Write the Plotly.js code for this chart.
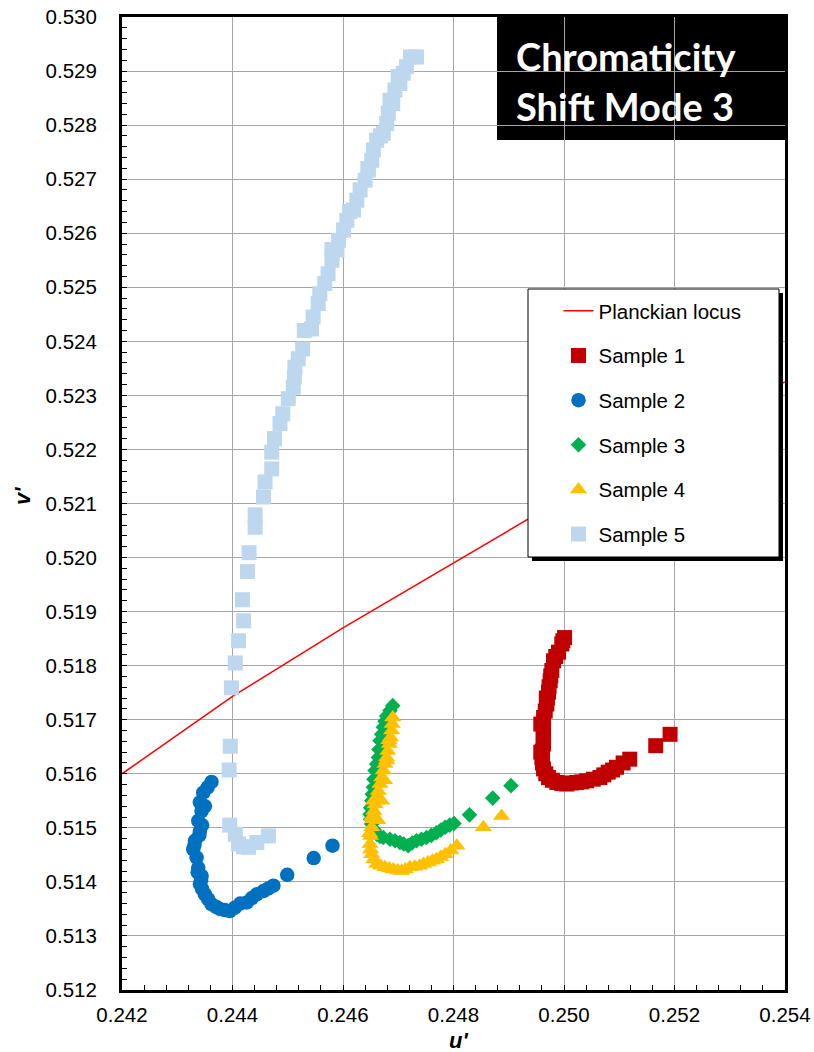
<!DOCTYPE html>
<html>
<head>
<meta charset="utf-8">
<script src="https://cdn.plot.ly/plotly-3.0.1.min.js"></script>
<style>html,body{margin:0;padding:0;background:#fff;}#chart{width:814px;height:1052px;}</style>
</head>
<body>
<div id="chart"></div>
<script>
// Planckian locus
const planckU = [0.242, 0.244, 0.246, 0.248, 0.250, 0.252, 0.254];
const planckV = [0.51600, 0.51743, 0.51870, 0.51990, 0.52110, 0.52220, 0.52325];

// Sample 1 (red squares)
const s1U = [0.25001, 0.24998, 0.24996, 0.24990, 0.24985, 0.24981, 0.24978, 0.24976, 0.24975, 0.24973, 0.24972, 0.24970, 0.24969, 0.24966, 0.24963, 0.24958, 0.24963, 0.24962, 0.24963, 0.24961, 0.24960, 0.24961, 0.24963, 0.24967, 0.24972, 0.24979, 0.24987, 0.24996, 0.25005, 0.25014, 0.25023, 0.25032, 0.25041, 0.25053, 0.25065, 0.25072, 0.25080, 0.25088, 0.25095, 0.25107, 0.25119, 0.25166, 0.25192, 0.24968, 0.24958];
const s1V = [0.51852, 0.51846, 0.51840, 0.51825, 0.51817, 0.51809, 0.51791, 0.51781, 0.51772, 0.51761, 0.51751, 0.51740, 0.51729, 0.51716, 0.51704, 0.51692, 0.51680, 0.51668, 0.51655, 0.51642, 0.51630, 0.51620, 0.51609, 0.51600, 0.51593, 0.51588, 0.51584, 0.51582, 0.51581, 0.51583, 0.51584, 0.51585, 0.51587, 0.51590, 0.51593, 0.51598, 0.51603, 0.51607, 0.51612, 0.51620, 0.51627, 0.51652, 0.51673, 0.51740, 0.51640];

// Sample 2 (blue circles)
const s2U = [0.24362, 0.24355, 0.24347, 0.24341, 0.24344, 0.24338, 0.24341, 0.24340, 0.24332, 0.24331, 0.24329, 0.24335, 0.24338, 0.24337, 0.24344, 0.24343, 0.24341, 0.24345, 0.24350, 0.24356, 0.24362, 0.24370, 0.24377, 0.24386, 0.24395, 0.24404, 0.24414, 0.24426, 0.24435, 0.24444, 0.24456, 0.24465, 0.24474, 0.24499, 0.24547, 0.24581, 0.24350, 0.24345];
const s2V = [0.51585, 0.51575, 0.51565, 0.51547, 0.51531, 0.51513, 0.51494, 0.51486, 0.51476, 0.51468, 0.51460, 0.51445, 0.51426, 0.51418, 0.51411, 0.51403, 0.51396, 0.51387, 0.51377, 0.51368, 0.51359, 0.51354, 0.51350, 0.51348, 0.51346, 0.51352, 0.51360, 0.51362, 0.51370, 0.51377, 0.51383, 0.51388, 0.51393, 0.51413, 0.51444, 0.51467, 0.51540, 0.51505];

// Sample 3 (green diamonds)
const s3U = [0.24690, 0.24685, 0.24679, 0.24676, 0.24673, 0.24670, 0.24667, 0.24665, 0.24664, 0.24661, 0.24658, 0.24656, 0.24655, 0.24653, 0.24652, 0.24650, 0.24649, 0.24650, 0.24652, 0.24656, 0.24661, 0.24667, 0.24673, 0.24685, 0.24694, 0.24703, 0.24710, 0.24718, 0.24725, 0.24733, 0.24742, 0.24751, 0.24760, 0.24769, 0.24777, 0.24785, 0.24793, 0.24801, 0.24829, 0.24871, 0.24904];
const s3V = [0.51726, 0.51717, 0.51707, 0.51697, 0.51686, 0.51673, 0.51661, 0.51645, 0.51630, 0.51618, 0.51606, 0.51590, 0.51575, 0.51562, 0.51550, 0.51537, 0.51525, 0.51516, 0.51507, 0.51497, 0.51488, 0.51484, 0.51482, 0.51479, 0.51476, 0.51473, 0.51470, 0.51467, 0.51472, 0.51476, 0.51479, 0.51482, 0.51486, 0.51491, 0.51496, 0.51501, 0.51505, 0.51508, 0.51524, 0.51555, 0.51578];

// Sample 4 (yellow triangles)
const s4U = [0.24690, 0.24689, 0.24688, 0.24686, 0.24684, 0.24681, 0.24679, 0.24676, 0.24673, 0.24670, 0.24667, 0.24664, 0.24661, 0.24658, 0.24656, 0.24654, 0.24652, 0.24650, 0.24649, 0.24650, 0.24652, 0.24656, 0.24661, 0.24668, 0.24676, 0.24684, 0.24691, 0.24699, 0.24706, 0.24713, 0.24721, 0.24730, 0.24739, 0.24746, 0.24754, 0.24762, 0.24769, 0.24777, 0.24785, 0.24795, 0.24806, 0.24854, 0.24887, 0.24683, 0.24679, 0.24675, 0.24670, 0.24663, 0.24652, 0.24655, 0.24648];
const s4V = [0.51704, 0.51692, 0.51680, 0.51667, 0.51655, 0.51642, 0.51630, 0.51618, 0.51606, 0.51593, 0.51581, 0.51568, 0.51556, 0.51543, 0.51531, 0.51516, 0.51501, 0.51485, 0.51470, 0.51460, 0.51451, 0.51442, 0.51433, 0.51430, 0.51427, 0.51425, 0.51423, 0.51421, 0.51420, 0.51423, 0.51427, 0.51428, 0.51430, 0.51433, 0.51436, 0.51439, 0.51442, 0.51446, 0.51451, 0.51458, 0.51467, 0.51501, 0.51522, 0.51662, 0.51625, 0.51588, 0.51550, 0.51514, 0.51520, 0.51550, 0.51490];

// Sample 5 (light blue squares)
const s5U = [0.24733, 0.24722, 0.24715, 0.24709, 0.24703, 0.24694, 0.24685, 0.24682, 0.24679, 0.24673, 0.24661, 0.24655, 0.24652, 0.24646, 0.24640, 0.24631, 0.24625, 0.24619, 0.24607, 0.24601, 0.24592, 0.24589, 0.24580, 0.24573, 0.24567, 0.24558, 0.24555, 0.24546, 0.24543, 0.24527, 0.24519, 0.24513, 0.24512, 0.24510, 0.24501, 0.24491, 0.24486, 0.24476, 0.24471, 0.24471, 0.24459, 0.24456, 0.24441, 0.24441, 0.24430, 0.24427, 0.24418, 0.24420, 0.24411, 0.24405, 0.24398, 0.24396, 0.24394, 0.24395, 0.24405, 0.24411, 0.24420, 0.24429, 0.24444, 0.24465, 0.24700, 0.24690, 0.24668, 0.24645, 0.24612, 0.24580, 0.24530];
const s5V = [0.52926, 0.52926, 0.52908, 0.52896, 0.52877, 0.52865, 0.52846, 0.52822, 0.52803, 0.52785, 0.52772, 0.52754, 0.52735, 0.52717, 0.52698, 0.52680, 0.52661, 0.52643, 0.52624, 0.52606, 0.52587, 0.52569, 0.52550, 0.52525, 0.52507, 0.52488, 0.52470, 0.52445, 0.52423, 0.52386, 0.52368, 0.52352, 0.52334, 0.52315, 0.52294, 0.52266, 0.52248, 0.52220, 0.52195, 0.52164, 0.52140, 0.52112, 0.52079, 0.52056, 0.52009, 0.51974, 0.51922, 0.51883, 0.51846, 0.51805, 0.51759, 0.51651, 0.51607, 0.51505, 0.51488, 0.51470, 0.51465, 0.51464, 0.51473, 0.51485, 0.52890, 0.52840, 0.52780, 0.52720, 0.52640, 0.52570, 0.52420];

const xTicks = [0.242, 0.244, 0.246, 0.248, 0.250, 0.252, 0.254];
const yTicks = [0.512, 0.513, 0.514, 0.515, 0.516, 0.517, 0.518, 0.519, 0.520, 0.521, 0.522, 0.523, 0.524, 0.525, 0.526, 0.527, 0.528, 0.529, 0.530];

const seriesNames = ['Planckian locus', 'Sample 1', 'Sample 2', 'Sample 3', 'Sample 4', 'Sample 5'];
const titleLines = ['Chromaticity', 'Shift Mode 3'];
const axisTitles = ["u'", "v'"];

const FONT = 'Liberation Sans, Arial, sans-serif';

const traces = [
  {x: planckU, y: planckV, name: seriesNames[0], mode: 'lines', type: 'scatter',
   line: {color: '#FF0000', width: 1.5}, legendgroup: 'g0'},
  {x: s1U, y: s1V, name: seriesNames[1], mode: 'markers', type: 'scatter',
   marker: {symbol: 'square', size: 15, color: '#C00000'}, legendgroup: 'g1'},
  {x: s2U, y: s2V, name: seriesNames[2], mode: 'markers', type: 'scatter',
   marker: {symbol: 'circle', size: 14.5, color: '#0070C0'}, legendgroup: 'g2'},
  {x: s3U, y: s3V, name: seriesNames[3], mode: 'markers', type: 'scatter',
   marker: {symbol: 'diamond', size: 12, color: '#00B050'}, legendgroup: 'g3'},
  {x: s4U, y: s4V, name: seriesNames[4], mode: 'markers', type: 'scatter',
   marker: {symbol: 'triangle-up', size: 15, color: '#FFC000'}, legendgroup: 'g4'},
  {x: s5U, y: s5V, name: seriesNames[5], mode: 'markers', type: 'scatter',
   marker: {symbol: 'square', size: 15, color: '#BDD7EE'}, legendgroup: 'g5'}
];

const W = 814, H = 1052;
const mL = 122, mR = 29, mT = 17, mB = 62;
const pw = W - mL - mR, ph = H - mT - mB;
const px = v => (v - mL) / pw;
const py = v => (H - mB - v) / ph;

const layout = {
  width: W, height: H,
  margin: {l: mL, r: mR, t: mT, b: mB, pad: 0},
  paper_bgcolor: '#ffffff', plot_bgcolor: '#ffffff',
  font: {family: FONT, size: 20.5, color: '#000'},
  showlegend: true,
  xaxis: {
    range: [0.242, 0.254], tickvals: xTicks, ticktext: xTicks.map(v => v.toFixed(3)),
    showgrid: true, gridcolor: '#A6A6A6', gridwidth: 1,
    showline: true, linecolor: '#000', linewidth: 3, mirror: true,
    ticks: 'inside', ticklen: 5, tickcolor: '#000', tickwidth: 1,
    minor: {dtick: 0.0004, ticks: 'inside', ticklen: 5, tickcolor: '#000', tickwidth: 1, showgrid: false},
    zeroline: false, tickfont: {family: FONT, size: 20.5, color: '#000'}, ticklabelstandoff: 4
  },
  yaxis: {
    range: [0.512, 0.530], tickvals: yTicks, ticktext: yTicks.map(v => v.toFixed(3)),
    showgrid: true, gridcolor: '#A6A6A6', gridwidth: 1,
    showline: true, linecolor: '#000', linewidth: 3, mirror: true,
    ticks: 'inside', ticklen: 5, tickcolor: '#000', tickwidth: 1,
    minor: {dtick: 0.0002, ticks: 'inside', ticklen: 5, tickcolor: '#000', tickwidth: 1, showgrid: false},
    zeroline: false, tickfont: {family: FONT, size: 20.5, color: '#000'}, ticklabelstandoff: 18
  },
  legend: {
    x: px(558.5), y: py(291), xanchor: 'left', yanchor: 'top',
    bgcolor: 'rgba(0,0,0,0)', borderwidth: 0,
    font: {family: FONT, size: 20.5, color: '#000'},
    tracegroupgap: 15, itemsizing: 'trace'
  },
  shapes: [
    {type: 'rect', xref: 'paper', yref: 'paper', layer: 'below',
     x0: px(497), x1: 1, y0: py(140), y1: 1, fillcolor: '#000', line: {width: 0}},
    {type: 'rect', xref: 'paper', yref: 'paper', layer: 'above',
     x0: px(532), x1: px(783), y0: py(561), y1: py(293), fillcolor: '#000', line: {width: 0}},
    {type: 'rect', xref: 'paper', yref: 'paper', layer: 'above',
     x0: px(528), x1: px(779), y0: py(557), y1: py(289), fillcolor: '#fff', line: {color: '#000', width: 1}}
  ],
  annotations: [
    {text: '<b>' + titleLines[0] + '</b>', xref: 'paper', yref: 'paper', x: px(514), y: py(56),
     xanchor: 'left', yanchor: 'middle', showarrow: false,
     font: {family: 'Lato, sans-serif', size: 38, color: '#fff'}},
    {text: '<b>' + titleLines[1] + '</b>', xref: 'paper', yref: 'paper', x: px(514), y: py(106),
     xanchor: 'left', yanchor: 'middle', showarrow: false,
     font: {family: 'Lato, sans-serif', size: 38, color: '#fff'}},
    {text: '<b><i>' + axisTitles[0] + '</i></b>', xref: 'paper', yref: 'paper', x: px(458), y: py(1040),
     xanchor: 'center', yanchor: 'middle', showarrow: false,
     font: {family: FONT, size: 22, color: '#000'}},
    {text: '<b><i>' + axisTitles[1] + '</i></b>', xref: 'paper', yref: 'paper', x: px(22), y: py(496),
     xanchor: 'center', yanchor: 'middle', showarrow: false, textangle: -90,
     font: {family: FONT, size: 22, color: '#000'}}
  ]
};

Plotly.newPlot('chart', traces, layout, {displayModeBar: false, staticPlot: true});
</script>
</body>
</html>
